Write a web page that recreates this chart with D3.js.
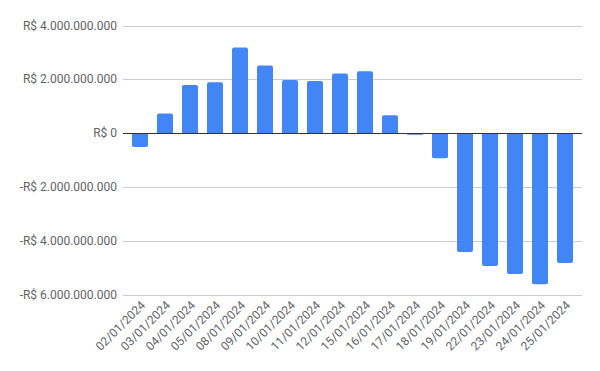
<!DOCTYPE html>
<html>
<head>
<meta charset="utf-8">
<script src="https://cdn.jsdelivr.net/npm/d3@7"></script>
<style>
  body { margin: 0; background: #fff; }
  text { font-family: Roboto, Arial, sans-serif; }
</style>
</head>
<body>
<svg width="600" height="371"></svg>
<script>
// values, in billions of reais
const dates = ["02/01/2024", "03/01/2024", "04/01/2024", "05/01/2024", "08/01/2024", "09/01/2024",
  "10/01/2024", "11/01/2024", "12/01/2024", "15/01/2024", "16/01/2024", "17/01/2024",
  "18/01/2024", "19/01/2024", "22/01/2024", "23/01/2024", "24/01/2024", "25/01/2024"];
const saldo = [-0.51, 0.73, 1.79, 1.90, 3.19, 2.52, 1.98, 1.94, 2.22, 2.31, 0.67, -0.06,
  -0.93, -4.42, -4.94, -5.24, -5.62, -4.83];
const yTicks = [-6, -4, -2, 0, 2, 4];

const svg = d3.select("svg");

const x = d3.scaleBand().domain(dates).range([123, 582])
  .paddingInner(0.36).paddingOuter(0.36);
const y = d3.scaleLinear().domain([-6, 4]).range([294.5, 25.7]);

function fmt(v) {
  if (v === 0) return "R$ 0";
  let s = d3.format(",")(Math.abs(v) * 1e9).replace(/,/g, ".");
  return (v < 0 ? "-" : "") + "R$ " + s;
}

// gridlines
svg.append("g").selectAll("line")
  .data(yTicks.filter(d => d !== 0))
  .enter().append("line")
  .attr("x1", 123).attr("x2", 582)
  .attr("y1", d => Math.round(y(d)) + 0.5).attr("y2", d => Math.round(y(d)) + 0.5)
  .attr("stroke", "#cccccc").attr("stroke-width", 1);

// y labels
svg.append("g").selectAll("text")
  .data(yTicks)
  .enter().append("text")
  .attr("x", 117).attr("y", d => y(d) + 4)
  .attr("text-anchor", "end")
  .attr("font-size", 12)
  .attr("fill", "#5f6368")
  .text(fmt);

// bars with slight rounding
svg.append("g").selectAll("path")
  .data(saldo)
  .enter().append("path")
  .attr("fill", "#4285f4")
  .attr("d", (d, i) => {
    const x0 = x(dates[i]), w = x.bandwidth();
    const y0 = y(0), y1 = y(d);
    const h = Math.abs(y1 - y0);
    const r = Math.min(2, h / 2);
    if (d >= 0) {
      return `M${x0},${y0} V${y1 + r} Q${x0},${y1} ${x0 + r},${y1} H${x0 + w - r} Q${x0 + w},${y1} ${x0 + w},${y1 + r} V${y0} Z`;
    }
    return `M${x0},${y0} V${y1 - r} Q${x0},${y1} ${x0 + r},${y1} H${x0 + w - r} Q${x0 + w},${y1} ${x0 + w},${y1 - r} V${y0} Z`;
  });

// zero line
svg.append("line")
  .attr("x1", 123).attr("x2", 582)
  .attr("y1", Math.round(y(0)) + 0.5).attr("y2", Math.round(y(0)) + 0.5)
  .attr("stroke", "#333333").attr("stroke-width", 1);

// x labels
svg.append("g").selectAll("text")
  .data(dates)
  .enter().append("text")
  .attr("transform", d => `translate(${x(d) + x.bandwidth() / 2 + 6},${306}) rotate(-45)`)
  .attr("text-anchor", "end")
  .attr("font-size", 12)
  .attr("fill", "#5f6368")
  .text(d => d);
</script>
</body>
</html>
